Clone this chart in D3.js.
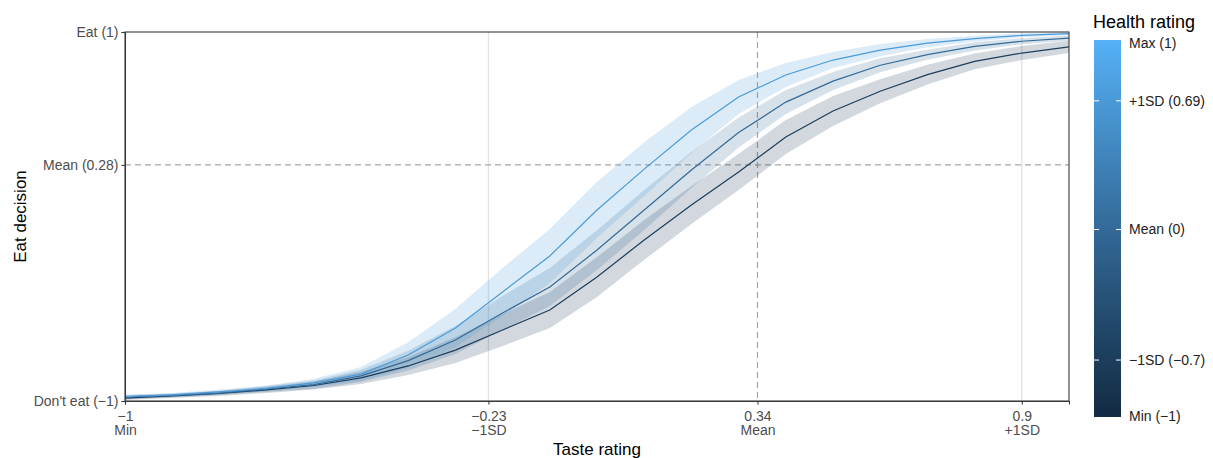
<!DOCTYPE html>
<html>
<head>
<meta charset="utf-8">
<script src="https://cdn.jsdelivr.net/npm/d3@7"></script>
<style>
  html, body { margin: 0; padding: 0; background: #fff; }
  svg { display: block; font-family: "Liberation Sans", Arial, sans-serif; }
</style>
</head>
<body>
<svg id="chart" width="1213" height="458"></svg>
<script>
// ---------------- data ----------------
const tasteX = [-1, -0.9, -0.8, -0.7, -0.6, -0.5, -0.4, -0.3, -0.2, -0.1, 0, 0.1, 0.2, 0.3, 0.4, 0.5, 0.6, 0.7, 0.8, 0.9, 1];

// health rating levels for the three curves
const healthLevels = [-0.7, 0, 0.69];

// predicted eat decision per health level
const eatLowHealth  = [-0.984, -0.973, -0.959, -0.940, -0.916, -0.875, -0.810, -0.724, -0.615, -0.507, -0.328, -0.127, 0.062, 0.241, 0.431, 0.572, 0.679, 0.769, 0.841, 0.886, 0.919];
const eatMeanHealth = [-0.978, -0.970, -0.957, -0.935, -0.911, -0.864, -0.781, -0.669, -0.523, -0.382, -0.182, 0.035, 0.252, 0.455, 0.620, 0.734, 0.820, 0.877, 0.922, 0.950, 0.967];
const eatHighHealth = [-0.976, -0.967, -0.951, -0.932, -0.902, -0.854, -0.751, -0.604, -0.409, -0.214, 0.035, 0.257, 0.469, 0.648, 0.767, 0.848, 0.902, 0.940, 0.964, 0.982, 0.991];

// half-width of the confidence band per health level
const ciLowHealth  = [0.011, 0.011, 0.014, 0.016, 0.022, 0.033, 0.049, 0.070, 0.087, 0.098, 0.108, 0.108, 0.103, 0.098, 0.092, 0.081, 0.065, 0.054, 0.043, 0.038, 0.033];
const ciMeanHealth = [0.011, 0.011, 0.011, 0.016, 0.022, 0.033, 0.054, 0.076, 0.092, 0.103, 0.108, 0.108, 0.098, 0.081, 0.065, 0.049, 0.038, 0.027, 0.022, 0.016, 0.014];
const ciHighHealth = [0.011, 0.011, 0.014, 0.016, 0.022, 0.038, 0.070, 0.103, 0.130, 0.146, 0.152, 0.146, 0.125, 0.092, 0.065, 0.043, 0.033, 0.022, 0.016, 0.011, 0.008];

const xTickValues = [-1, -0.23, 0.34, 0.9];
const xTickLabels = [["\u22121", "Min"], ["\u22120.23", "\u22121SD"], ["0.34", "Mean"], ["0.9", "+1SD"]];
const yTickValues = [-1, 0.28, 1];
const yTickLabels = ["Don't eat (\u22121)", "Mean (0.28)", "Eat (1)"];
const legendValues = [1, 0.69, 0, -0.7, -1];
const legendLabels = ["Max (1)", "+1SD (0.69)", "Mean (0)", "\u22121SD (\u22120.7)", "Min (\u22121)"];

// ---------------- layout ----------------
const svg = d3.select("#chart");
const P = { left: 125, right: 1069, top: 32, bottom: 401 };

const x = d3.scaleLinear().domain([-1, 1]).range([P.left, P.right]);
const y = d3.scaleLinear().domain([-1, 1]).range([P.bottom, P.top]);
const colorT = d3.scaleLinear().domain([-1, 1]).range([0, 1]);
const interp = d3.interpolateLab("#132B43", "#56B1F7");
const color = h => interp(colorT(h));

const series = [
  { h: healthLevels[0], v: eatLowHealth,  ci: ciLowHealth },
  { h: healthLevels[1], v: eatMeanHealth, ci: ciMeanHealth },
  { h: healthLevels[2], v: eatHighHealth, ci: ciHighHealth }
].map(s => ({ ...s, pts: tasteX.map((t, i) => ({ t, v: s.v[i], lo: s.v[i] - s.ci[i], hi: s.v[i] + s.ci[i] })) }));

// clip
svg.append("defs").append("clipPath").attr("id", "panel")
  .append("rect").attr("x", P.left).attr("y", P.top)
  .attr("width", P.right - P.left).attr("height", P.bottom - P.top);

// grid lines (light solid at ±1SD)
const grid = svg.append("g");
grid.selectAll("line.vg").data([-0.23, 0.9]).join("line")
  .attr("x1", d => x(d)).attr("x2", d => x(d))
  .attr("y1", P.top).attr("y2", P.bottom)
  .attr("stroke", "#e3e3e3").attr("stroke-width", 1.4);

// reference dashed lines
grid.append("line")
  .attr("x1", P.left).attr("x2", P.right)
  .attr("y1", y(0.28)).attr("y2", y(0.28))
  .attr("stroke", "#a6a6a6").attr("stroke-width", 1.2).attr("stroke-dasharray", "6,4");
grid.append("line")
  .attr("x1", x(0.34)).attr("x2", x(0.34))
  .attr("y1", P.top).attr("y2", P.bottom)
  .attr("stroke", "#a6a6a6").attr("stroke-width", 1.2).attr("stroke-dasharray", "6,4");

const plot = svg.append("g").attr("clip-path", "url(#panel)");

const area = d3.area().x(d => x(d.t)).y0(d => y(d.lo)).y1(d => y(d.hi));
const line = d3.line().x(d => x(d.t)).y(d => y(d.v));

plot.selectAll("path.rib").data(series).join("path")
  .attr("d", d => area(d.pts))
  .attr("fill", d => color(d.h)).attr("fill-opacity", 0.2).attr("stroke", "none");

plot.selectAll("path.ln").data(series).join("path")
  .attr("d", d => line(d.pts))
  .attr("fill", "none").attr("stroke", d => color(d.h)).attr("stroke-width", 1.2);

// panel border
svg.append("rect").attr("x", P.left).attr("y", P.top)
  .attr("width", P.right - P.left).attr("height", P.bottom - P.top)
  .attr("fill", "none").attr("stroke", "#3a3a3a").attr("stroke-width", 1.1);

// y axis
const yAxis = d3.axisLeft(y).tickValues(yTickValues)
  .tickFormat((d, i) => yTickLabels[i]).tickSize(3.5).tickPadding(3);
const gy = svg.append("g").attr("transform", `translate(${P.left},0)`).call(yAxis);
gy.select(".domain").attr("stroke", "#3a3a3a").attr("stroke-width", 1.1);
gy.selectAll(".tick line").attr("stroke", "#3a3a3a").attr("stroke-width", 1.1);
gy.selectAll(".tick text").attr("fill", "#4d4d4d").style("font-size", "14px")
  .style("font-family", "'Liberation Sans', Arial, sans-serif");

// x axis
const xAxis = d3.axisBottom(x).tickValues(xTickValues).tickFormat("").tickSize(3.5);
const gx = svg.append("g").attr("transform", `translate(0,${P.bottom})`).call(xAxis);
gx.select(".domain").attr("stroke", "#3a3a3a").attr("stroke-width", 1.1);
gx.selectAll(".tick line").attr("stroke", "#3a3a3a").attr("stroke-width", 1.1);
gx.selectAll(".tick").each(function (d, i) {
  const t = d3.select(this).append("text")
    .attr("fill", "#4d4d4d").attr("text-anchor", "middle")
    .style("font-size", "14px").style("font-family", "'Liberation Sans', Arial, sans-serif");
  t.append("tspan").attr("x", 0).attr("y", 20).text(xTickLabels[i][0]);
  t.append("tspan").attr("x", 0).attr("y", 34).text(xTickLabels[i][1]);
});

// axis titles
svg.append("text").attr("x", (P.left + P.right) / 2).attr("y", 455)
  .attr("text-anchor", "middle").attr("fill", "#000").style("font-size", "17px")
  .text("Taste rating");
svg.append("text").attr("transform", `translate(26,${(P.top + P.bottom) / 2}) rotate(-90)`)
  .attr("text-anchor", "middle").attr("fill", "#000").style("font-size", "17px")
  .text("Eat decision");

// ---------------- legend ----------------
const L = { x: 1094, w: 27, top: 40, bottom: 417 };
const ly = d3.scaleLinear().domain([-1, 1]).range([416, 43]);
const grad = svg.select("defs").append("linearGradient").attr("id", "hgrad")
  .attr("x1", 0).attr("y1", 1).attr("x2", 0).attr("y2", 0);
d3.range(0, 1.0001, 0.05).forEach(t => {
  grad.append("stop").attr("offset", t).attr("stop-color", interp(t));
});
svg.append("text").attr("x", 1093).attr("y", 28).attr("fill", "#000")
  .style("font-size", "18px").text("Health rating");
svg.append("rect").attr("x", L.x).attr("y", L.top).attr("width", L.w)
  .attr("height", L.bottom - L.top).attr("fill", "url(#hgrad)");
const lg = svg.append("g");
legendValues.forEach((v, i) => {
  const yy = ly(v);
  if (i > 0 && i < legendValues.length - 1) {
    lg.append("line").attr("x1", L.x).attr("x2", L.x + 5).attr("y1", yy).attr("y2", yy)
      .attr("stroke", "#fff").attr("stroke-width", 1);
    lg.append("line").attr("x1", L.x + L.w - 5).attr("x2", L.x + L.w).attr("y1", yy).attr("y2", yy)
      .attr("stroke", "#fff").attr("stroke-width", 1);
  }
  lg.append("text").attr("x", 1129).attr("y", yy).attr("dy", "0.35em")
    .attr("fill", "#222").style("font-size", "14px").text(legendLabels[i]);
});
</script>
</body>
</html>
